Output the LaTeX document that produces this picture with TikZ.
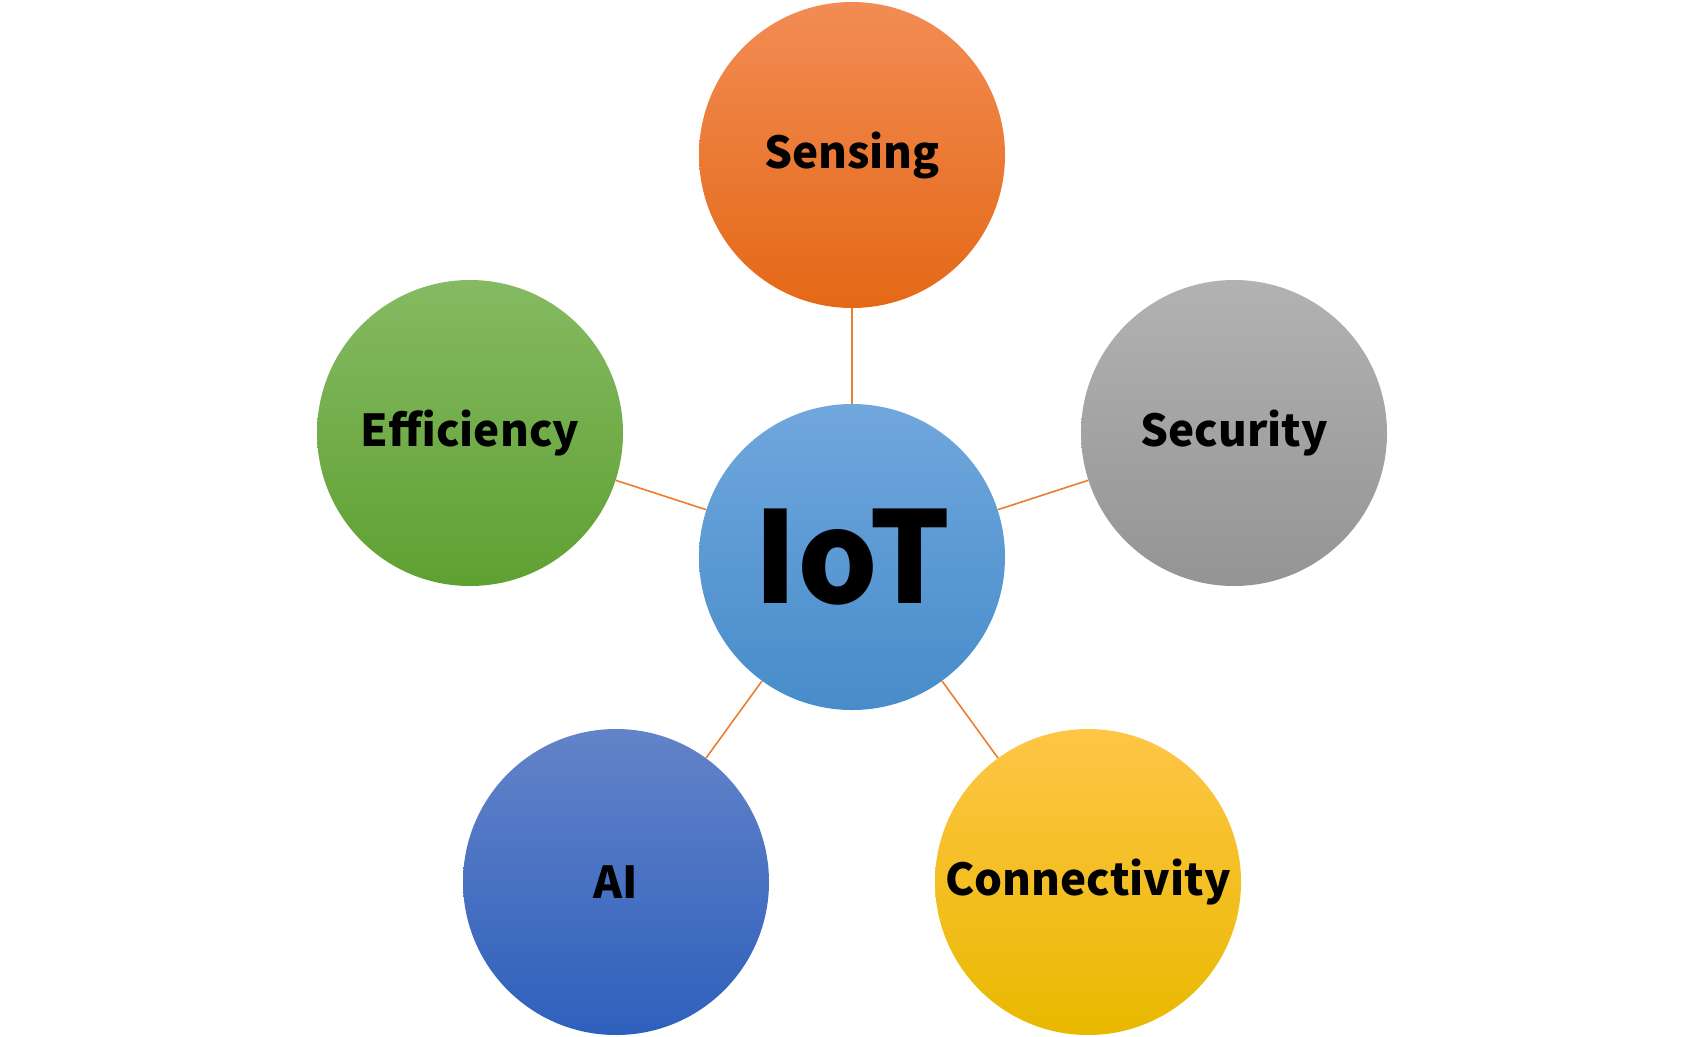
\documentclass[tikz,border=0pt]{standalone}
\usepackage{fontspec}
\setmainfont{Noto Sans CJK SC}
\usepackage{xcolor}
\usepackage{tikz}
\definecolor{linkorange}{HTML}{ED7D31}
\tikzset{
  bubble/.style = {circle, minimum size=306pt, inner sep=0pt,
    font=\fontsize{44}{54}\selectfont\bfseries},
  link/.style = {draw=linkorange, line width=1.6pt}
}

\begin{document}
\begin{tikzpicture}[x=1pt,y=-1pt]
  \useasboundingbox (0,0) rectangle (1704,1036);
  %%% centre
  \node[bubble, top color={rgb,255:red,112;green,167;blue,221},
    bottom color={rgb,255:red,71;green,140;blue,202},
    font=\fontsize{127}{145}\selectfont\bfseries] (iot) at (852,557) {IoT};
  %%% outer ring
  \node[bubble, top color={rgb,255:red,242;green,140;blue,84},
    bottom color={rgb,255:red,228;green,104;blue,22}] (sensing) at (852,155) {Sensing};
  \node[bubble, top color={rgb,255:red,178;green,178;blue,178},
    bottom color={rgb,255:red,148;green,148;blue,148}] (security) at (1234,433) {Security};
  \node[bubble, top color={rgb,255:red,255;green,197;blue,70},
    bottom color={rgb,255:red,232;green,185;blue,0}] (connectivity) at (1088,882) {Connectivity};
  \node[bubble, top color={rgb,255:red,99;green,131;blue,201},
    bottom color={rgb,255:red,46;green,96;blue,188}] (ai) at (616,882) {AI};
  \node[bubble, top color={rgb,255:red,133;green,186;blue,98},
    bottom color={rgb,255:red,95;green,160;blue,50}] (efficiency) at (470,433) {Efficiency};
  %%% links
  \foreach \nn in {sensing,security,connectivity,ai,efficiency} {
    \draw[link] (iot) -- (\nn);
  }
\end{tikzpicture}
\end{document}
